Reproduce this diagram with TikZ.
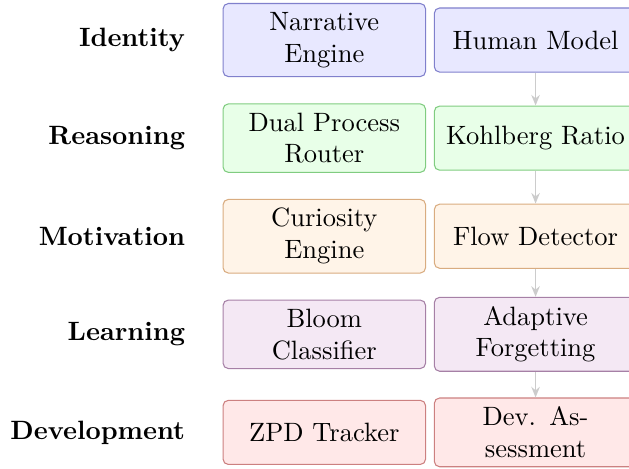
\documentclass[tikz,border=0pt]{standalone}
\usetikzlibrary{arrows.meta}
\begin{document}
\begin{tikzpicture}[
  modbox/.style={draw, rounded corners=2pt, text width=2.45cm, align=center,
    minimum height=0.85cm, inner sep=3.33pt},
  rowlabel/.style={anchor=east, font=\bfseries},
  flow/.style={draw=gray!40, line width=0.6pt, -{Stealth[length=4pt,width=3.2pt]}},
  identity/.style={modbox, fill=blue!9, draw=blue!60!black!50},
  reasoning/.style={modbox, fill=green!9, draw=green!60!black!50},
  motivation/.style={modbox, fill=orange!9, draw=orange!70!black!50},
  learning/.style={modbox, fill=violet!9, draw=violet!60!black!50},
  development/.style={modbox, fill=red!9, draw=red!60!black!50},
]
\clip (-122.3pt,15.1pt) rectangle (114.9pt,-161.7pt);

% layer labels
\node[rowlabel] (lid)  at (-49pt, 0)       {Identity};
\node[rowlabel] (lrs)  at (-49pt, -1.3cm)  {Reasoning};
\node[rowlabel] (lmo)  at (-49pt, -2.6cm)  {Motivation};
\node[rowlabel] (lle)  at (-49pt, -3.9cm)  {Learning};
\node[rowlabel] (ldv)  at (-49pt, -5.2cm)  {Development};

% first column of modules
\node[identity]    (narr)  at (0, 0)       {Narrative Engine};
\node[reasoning]   (dual)  at (0, -1.3cm)  {Dual Process Router};
\node[motivation]  (cur)   at (0, -2.6cm)  {Curiosity Engine};
\node[learning]    (bloom) at (0, -3.9cm)  {Bloom Classifier};
\node[development] (zpd)   at (0, -5.2cm)  {ZPD Tracker};

% second column of modules
\node[identity]    (human) at (2.8cm, 0)       {Human Model};
\node[reasoning]   (kohl)  at (2.8cm, -1.3cm)  {Kohlberg Ratio};
\node[motivation]  (flowd) at (2.8cm, -2.6cm)  {Flow Detector};
\node[learning]    (adapt) at (2.8cm, -3.9cm)  {Adaptive Forgetting};
\node[development] (dev)   at (2.8cm, -5.2cm)  {Dev. Assessment};

% chain down the second column
\draw[flow] (human) -- (kohl);
\draw[flow] (kohl) -- (flowd);
\draw[flow] (flowd) -- (adapt);
\draw[flow] (adapt) -- (dev);
\end{tikzpicture}
\end{document}
